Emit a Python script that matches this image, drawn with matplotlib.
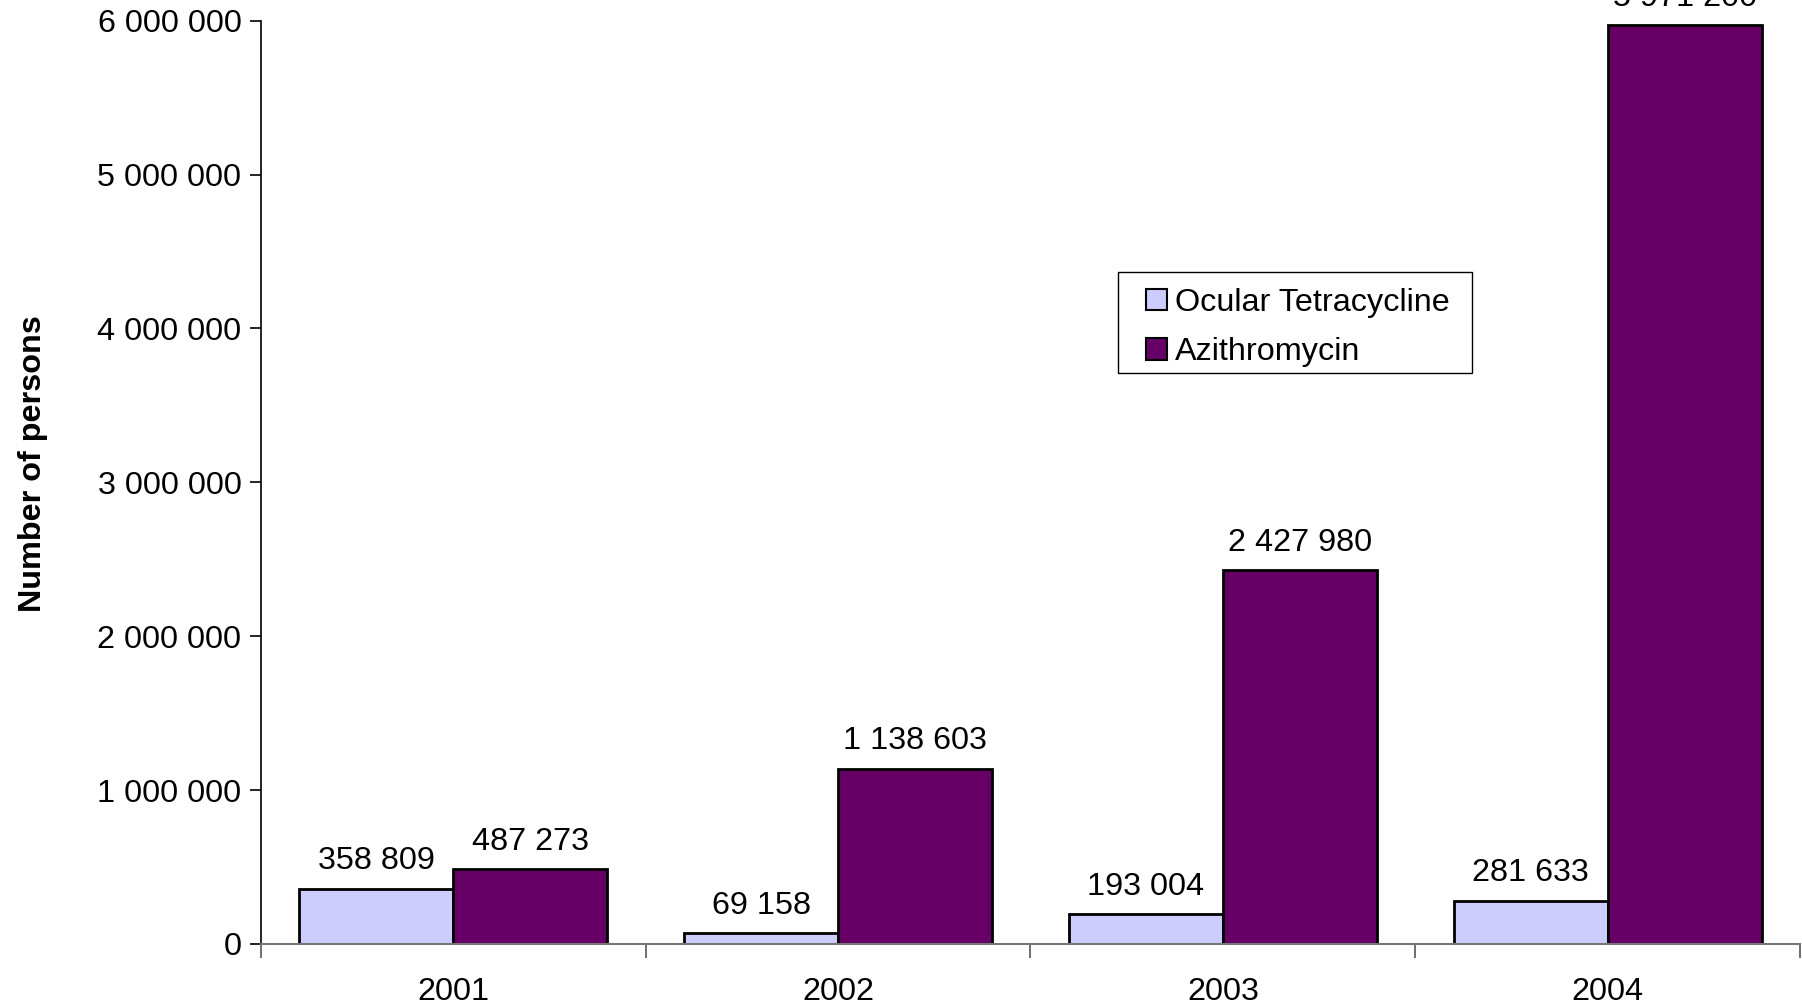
import matplotlib
matplotlib.use("Agg")
import matplotlib.pyplot as plt
from matplotlib.patches import Rectangle
import numpy as np

years = ["2001", "2002", "2003", "2004"]
tetracycline = [358809, 69158, 193004, 281633]
azithromycin = [487273, 1138603, 2427980, 5971200]
series_names = ["Ocular Tetracycline", "Azithromycin"]
yticks = [0, 1000000, 2000000, 3000000, 4000000, 5000000, 6000000]

plt.rcParams['font.family'] = ['Liberation Sans', 'DejaVu Sans']
FS = 23.3

def fmt(v):
    return f"{v:,}".replace(",", " ")

fig = plt.figure(figsize=(18.02, 10.08), dpi=100)
ax = fig.add_axes([0.1448, 0.0635, 0.9989 - 0.1448, 0.9795 - 0.0635])

x = np.arange(len(years))
w = 0.4
b1 = ax.bar(x - w / 2, tetracycline, w, color="#CCCCFF", edgecolor="black",
            linewidth=2, label=series_names[0], zorder=3)
b2 = ax.bar(x + w / 2, azithromycin, w, color="#660066", edgecolor="black",
            linewidth=2, label=series_names[1], zorder=3)

for bars, vals in ((b1, tetracycline), (b2, azithromycin)):
    for r, v in zip(bars, vals):
        ax.annotate(fmt(v), (r.get_x() + r.get_width() / 2, v),
                    xytext=(0, 9), textcoords="offset points",
                    ha="center", va="bottom", fontsize=FS, annotation_clip=False)

ax.set_xlim(-0.5, len(years) - 0.5)
ax.set_ylim(0, 6000000)
ax.set_yticks(yticks)
ax.set_yticklabels([fmt(v) for v in yticks], fontsize=FS)
ax.set_xticks(x)
ax.set_xticklabels(years, fontsize=FS)
ax.tick_params(axis="x", length=0, pad=23.5)
ax.set_xticks(np.arange(len(years) + 1) - 0.5, minor=True)
ax.tick_params(axis="x", which="minor", length=10, width=1.2, color="#555555")
ax.tick_params(axis="y", length=8, width=1.2, pad=6)

for s in ("top", "right"):
    ax.spines[s].set_visible(False)
ax.spines["left"].set_linewidth(1.2)
ax.spines["bottom"].set_color("#777777")
ax.spines["bottom"].set_linewidth(1.5)
ax.spines["bottom"].set_zorder(4)

ax.set_ylabel("Number of persons", fontsize=FS, fontweight="bold", labelpad=0)
ax.yaxis.set_label_coords(-0.1385, 0.52)

leg = ax.legend(loc="upper left", bbox_to_anchor=(0.5647, 0.728), fontsize=FS,
                frameon=False,
                handlelength=0.64, handleheight=0.64, handletextpad=0.25,
                borderpad=0.5, labelspacing=0.6, borderaxespad=0)
for h in leg.legend_handles:
    h.set_linewidth(1.5)
ax.add_patch(Rectangle((0.5569, 0.6186), 0.7869 - 0.5569, 0.7281 - 0.6186,
                       transform=ax.transAxes, facecolor="white",
                       edgecolor="black", linewidth=1.0, zorder=4))
leg.set_zorder(5)

fig.savefig("out.png", dpi=100)
